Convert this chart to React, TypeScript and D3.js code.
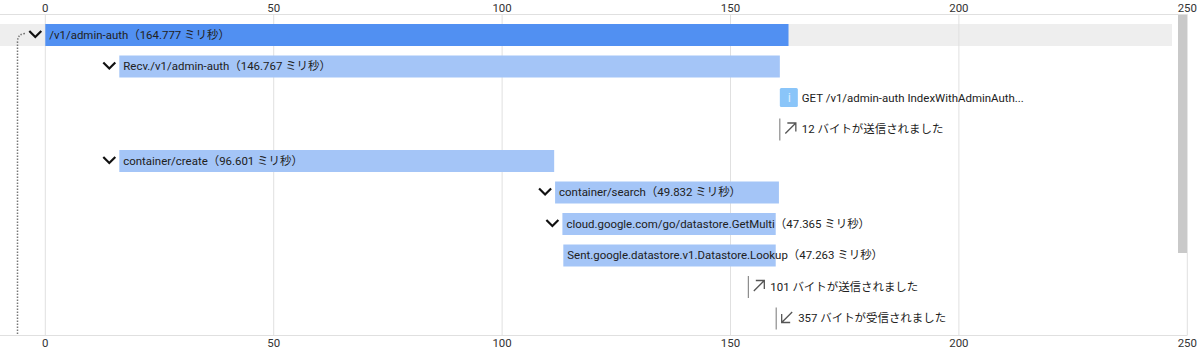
import React from "react";
import * as d3 from "d3";

const xTicks = [0, 50, 100, 150, 200, 250];

const spanNames = [
  "/v1/admin-auth",
  "Recv./v1/admin-auth",
  "container/create",
  "container/search",
  "cloud.google.com/go/datastore.GetMulti",
  "Sent.google.datastore.v1.Datastore.Lookup",
];
const spanDurations = ["164.777", "146.767", "96.601", "49.832", "47.365", "47.263"];
const spanStarts = [0, 16.2, 16.2, 111.6, 113.2, 113.4];
const spanEnds = [162.7, 160.8, 111.4, 160.6, 159.9, 159.9];
const spanRows = [0, 1, 4, 5, 6, 7];
const spanExpanded = [true, true, true, true, true, false];

const annotationText = "GET /v1/admin-auth IndexWithAdminAuth...";
const annotationValue = 160.8;
const annotationRow = 2;

const eventLabels = ["12 バイトが送信されました", "101 バイトが送信されました", "357 バイトが受信されました"];
const eventValues = [160.8, 153.9, 160.0];
const eventRows = [3, 8, 9];
const eventDirs = ["out", "out", "in"];

const FONT = "Roboto, 'Noto Sans CJK JP', sans-serif";
const INK = "#212121";
const FS = 11.45;

const x = d3.scaleLinear().domain([0, 250]).range([45.3, 1187.3]);
const rowY = d3.scaleLinear().domain([0, 9]).range([35, 318.5]);

function Chevron({ cx, cy }: { cx: number; cy: number }) {
  return (
    <path
      d={`M${cx - 6} ${cy - 3}L${cx} ${cy + 3}L${cx + 6} ${cy - 3}`}
      fill="none"
      stroke="#111"
      strokeWidth={2.2}
    />
  );
}

export default function App() {
  const connector = d3.path();
  connector.moveTo(25, rowY(0) - 1.5);
  connector.quadraticCurveTo(17.5, rowY(0) - 1, 17.5, 42);
  connector.lineTo(17.5, 335);

  return (
    <svg
      width={1200}
      height={360}
      style={{ position: "absolute", left: 0, top: 0, background: "#fff" }}
      fontFamily={FONT}
    >
      <rect x={0} y={24} width={1172} height={22} fill="#eeeeee" />

      {xTicks.map((t) => (
        <g key={t}>
          <line x1={x(t)} x2={x(t)} y1={14.5} y2={335} stroke="#e0e0e0" strokeWidth={1} />
          <text x={x(t)} y={12} textAnchor="middle" fontSize={FS} fill="#333">{t}</text>
          <text x={x(t)} y={347} textAnchor="middle" fontSize={FS} fill="#333">{t}</text>
        </g>
      ))}
      <line x1={0} x2={1187.5} y1={14.5} y2={14.5} stroke="#e0e0e0" />
      <line x1={0} x2={1187.5} y1={335.5} y2={335.5} stroke="#e0e0e0" />

      <rect x={1178} y={15} width={9} height={238} fill="#c9c9c9" />

      <path d={connector.toString()} fill="none" stroke="#777" strokeWidth={1.5} strokeDasharray="1.5 1.5" />

      {spanNames.map((name, i) => {
        const y = rowY(spanRows[i]);
        const x0 = x(spanStarts[i]);
        const x1 = x(spanEnds[i]);
        return (
          <g key={name}>
            <rect x={x0} y={y - 11} width={x1 - x0} height={22} fill={i === 0 ? "#5190f2" : "#a4c5f7"} />
            {spanExpanded[i] && <Chevron cx={x0 - 10} cy={y - 1} />}
            <text x={x0 + 4} y={y + 3.5} fontSize={FS} fill={INK}>
              {`${name}（${spanDurations[i]} ミリ秒）`}
            </text>
          </g>
        );
      })}

      <g>
        <rect
          x={x(annotationValue)}
          y={rowY(annotationRow) - 10}
          width={18}
          height={19}
          rx={1.5}
          fill="#8ac5f9"
        />
        <text
          x={x(annotationValue) + 9.5}
          y={rowY(annotationRow) + 4}
          textAnchor="middle"
          fontSize={13}
          fill="#dcefff"
        >
          i
        </text>
        <text x={x(annotationValue) + 22} y={rowY(annotationRow) + 3.5} fontSize={FS} fill={INK}>
          {annotationText}
        </text>
      </g>

      {eventLabels.map((label, i) => {
        const ex = x(eventValues[i]);
        const y = rowY(eventRows[i]);
        const ax = ex + 5.5;
        const arrow =
          eventDirs[i] === "out"
            ? `M${ax} ${y + 4}L${ax + 10.5} ${y - 6.5}M${ax + 2} ${y - 6.5}H${ax + 10.5}V${y + 2}`
            : `M${ax + 10.5} ${y - 6.5}L${ax} ${y + 4}M${ax + 8.5} ${y + 4}H${ax}V${y - 4.5}`;
        return (
          <g key={label}>
            <line x1={ex} x2={ex} y1={y - 11} y2={y + 11} stroke="#757575" strokeWidth={1} />
            <path d={arrow} fill="none" stroke="#555" strokeWidth={1.3} />
            <text x={ex + 22} y={y + 3.5} fontSize={FS} fill={INK}>{label}</text>
          </g>
        );
      })}
    </svg>
  );
}
